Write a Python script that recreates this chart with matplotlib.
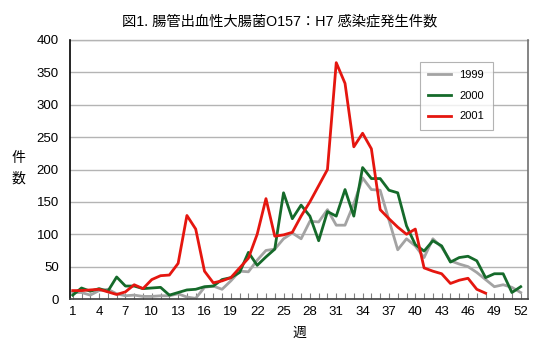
import matplotlib
matplotlib.use('Agg')
import matplotlib.pyplot as plt
import numpy as np

plt.rcParams['font.family'] = ['Liberation Sans', 'Noto Sans CJK JP', 'DejaVu Sans']

# weekly counts
weeks = np.arange(1, 53)
y1999 = [10, 10, 6, 13, 15, 8, 5, 6, 4, 4, 5, 5, 8, 3, 1, 18, 20, 15, 28, 43,
         42, 60, 75, 77, 93, 102, 93, 120, 119, 138, 114, 114, 147, 187, 169, 168, 122, 76, 93, 82,
         64, 93, 80, 59, 54, 50, 41, 30, 19, 22, 18, 10]
y2000 = [6, 17, 12, 16, 12, 34, 20, 20, 16, 17, 18, 6, 10, 14, 15, 19, 20, 30, 33, 41,
         72, 52, 65, 77, 164, 124, 145, 128, 90, 135, 128, 169, 128, 203, 186, 186, 168, 164, 113, 84,
         74, 90, 82, 57, 64, 66, 59, 33, 39, 39, 10, 19]
y2001 = [13, 13, 14, 15, 11, 7, 11, 22, 16, 30, 36, 37, 55, 129, 108, 43, 25, 28, 33, 48,
         63, 100, 155, 97, 99, 103, 128, 150, 175, 200, 365, 333, 235, 256, 232, 138, 124, 111, 100, 108,
         48, 43, 39, 24, 29, 32, 15, 9]

xticks = np.arange(1, 53, 3)
yticks = np.arange(0, 401, 50)

fig = plt.figure(figsize=(5.51, 3.58), dpi=100)
ax = fig.add_axes([70/551, 1 - 299/358, (528 - 70)/551, (299 - 40)/358])

ax.plot(weeks, y1999, color='#a3a3a3', lw=2.0, label='1999')
ax.plot(weeks, y2000, color='#156a2a', lw=2.0, label='2000')
ax.plot(weeks[:len(y2001)], y2001, color='#e5160f', lw=2.0, label='2001')

ax.set_xlim(0.69, 52.83)
ax.set_ylim(0, 400)
ax.set_yticks(yticks)
ax.set_xticks(xticks)
ax.set_xticks(weeks, minor=True)
ax.tick_params(axis='x', which='both', direction='in', length=4, width=0.8,
               color='#808080', labelsize=9.5, pad=5)
ax.tick_params(axis='y', length=0, labelsize=9.5, pad=8)
ax.yaxis.grid(True, color='#b4b4b4', lw=1)
ax.set_axisbelow(True)

ax.spines['top'].set_visible(False)
ax.spines['left'].set_color('black')
ax.spines['left'].set_linewidth(1.2)
ax.spines['bottom'].set_color('#404040')
ax.spines['bottom'].set_linewidth(1.2)
ax.spines['right'].set_color('#707070')
ax.spines['right'].set_linewidth(1.2)
ax.axhline(400, color='#b4b4b4', lw=1, zorder=0.5, clip_on=False)

ax.set_xlabel('週', fontsize=10, labelpad=6)
fig.text(18/551, 1 - 168/358, '件\n数', fontsize=10, ha='center', va='center',
         linespacing=1.6)

fig.text(280/551, 1 - 21/358, '図1. 腸管出血性大腸菌O157：H7 感染症発生件数',
         fontsize=10.3, ha='center', va='center')

leg = ax.legend(loc='upper left', bbox_to_anchor=((420 - 70)/458, (299 - 62)/259),
                borderaxespad=0, frameon=True, fancybox=False, edgecolor='#a0a0a0',
                fontsize=8, handlelength=2.0, labelspacing=0.95, borderpad=0.75,
                handletextpad=0.8)
leg.get_frame().set_linewidth(0.8)

fig.savefig('out.png', dpi=100)
